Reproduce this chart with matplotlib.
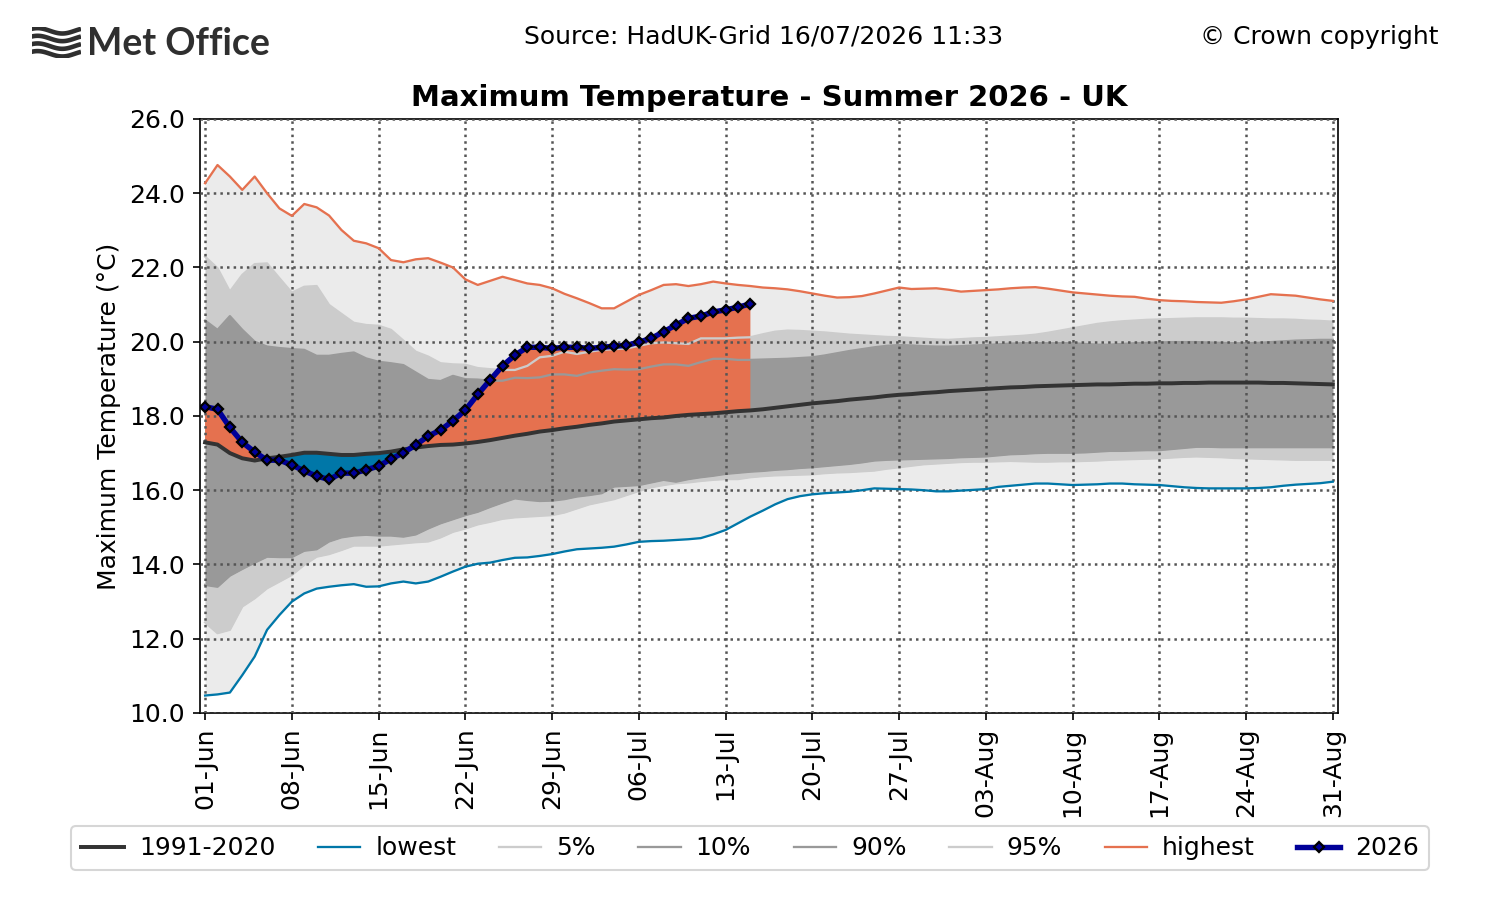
import numpy as np
import pandas as pd
import matplotlib
matplotlib.use("Agg")
import matplotlib.pyplot as plt
import matplotlib.dates as mdates

# ---- data (01 Jun .. 31 Aug) ----
dates = pd.date_range("2026-06-01", "2026-08-31", freq="D")

clim = [17.29, 17.23, 17.00, 16.86, 16.80, 16.86, 16.90, 16.95, 17.01, 17.01,
        16.98, 16.95, 16.95, 16.98, 17.00, 17.04, 17.10, 17.15, 17.19, 17.22,
        17.23, 17.26, 17.30, 17.35, 17.41, 17.47, 17.52, 17.58, 17.62, 17.67,
        17.71, 17.76, 17.80, 17.85, 17.88, 17.91, 17.94, 17.96, 18.00, 18.03,
        18.05, 18.07, 18.10, 18.13, 18.15, 18.18, 18.22, 18.26, 18.30, 18.34,
        18.37, 18.40, 18.44, 18.47, 18.50, 18.54, 18.57, 18.59, 18.62, 18.64,
        18.67, 18.69, 18.71, 18.73, 18.75, 18.77, 18.78, 18.80, 18.81, 18.82,
        18.83, 18.84, 18.85, 18.85, 18.86, 18.87, 18.87, 18.88, 18.88, 18.89,
        18.89, 18.90, 18.90, 18.90, 18.90, 18.90, 18.89, 18.89, 18.88, 18.87,
        18.86, 18.85]

lowest = [10.47, 10.50, 10.55, 11.02, 11.52, 12.24, 12.64, 13.00, 13.22, 13.35,
          13.40, 13.44, 13.47, 13.40, 13.41, 13.49, 13.54, 13.49, 13.54, 13.67,
          13.81, 13.94, 14.02, 14.05, 14.12, 14.18, 14.19, 14.23, 14.28, 14.35,
          14.41, 14.43, 14.45, 14.48, 14.54, 14.61, 14.63, 14.64, 14.66, 14.68,
          14.71, 14.81, 14.93, 15.11, 15.29, 15.45, 15.62, 15.76, 15.84, 15.89,
          15.92, 15.94, 15.96, 16.00, 16.05, 16.04, 16.03, 16.02, 16.00, 15.97,
          15.97, 15.99, 16.01, 16.03, 16.09, 16.12, 16.15, 16.18, 16.18, 16.16,
          16.14, 16.15, 16.16, 16.18, 16.18, 16.16, 16.15, 16.14, 16.11, 16.08,
          16.06, 16.05, 16.05, 16.05, 16.05, 16.06, 16.08, 16.12, 16.15, 16.17,
          16.19, 16.23]

p5 = [12.44, 12.15, 12.24, 12.87, 13.09, 13.36, 13.54, 13.72, 13.99, 14.21,
      14.28, 14.39, 14.51, 14.51, 14.51, 14.54, 14.57, 14.60, 14.62, 14.73,
      14.88, 14.97, 15.08, 15.15, 15.23, 15.27, 15.29, 15.31, 15.33, 15.40,
      15.51, 15.62, 15.69, 15.76, 15.87, 15.98, 16.08, 16.14, 16.19, 16.21,
      16.25, 16.28, 16.30, 16.30, 16.35, 16.38, 16.40, 16.41, 16.42, 16.43,
      16.46, 16.48, 16.49, 16.51, 16.53, 16.58, 16.62, 16.66, 16.70, 16.72,
      16.74, 16.76, 16.77, 16.77, 16.78, 16.79, 16.78, 16.77, 16.77, 16.78,
      16.78, 16.79, 16.80, 16.82, 16.83, 16.84, 16.85, 16.86, 16.88, 16.90,
      16.91, 16.90, 16.89, 16.87, 16.86, 16.85, 16.84, 16.83, 16.82, 16.82,
      16.82, 16.82]

p10 = [13.45, 13.40, 13.70, 13.88, 14.05, 14.21, 14.20, 14.20, 14.37, 14.41,
       14.62, 14.73, 14.78, 14.80, 14.78, 14.78, 14.75, 14.81, 14.97, 15.11,
       15.22, 15.33, 15.42, 15.55, 15.67, 15.78, 15.74, 15.71, 15.72, 15.76,
       15.83, 15.87, 15.92, 16.10, 16.12, 16.14, 16.21, 16.28, 16.23, 16.30,
       16.35, 16.39, 16.44, 16.47, 16.50, 16.52, 16.55, 16.57, 16.60, 16.62,
       16.65, 16.68, 16.71, 16.75, 16.80, 16.82, 16.83, 16.84, 16.85, 16.86,
       16.87, 16.89, 16.90, 16.91, 16.94, 16.97, 16.98, 17.00, 17.01, 17.01,
       17.01, 17.02, 17.04, 17.06, 17.06, 17.07, 17.08, 17.08, 17.11, 17.14,
       17.17, 17.17, 17.16, 17.16, 17.16, 17.16, 17.16, 17.16, 17.16, 17.16,
       17.16, 17.16]

p90 = [20.57, 20.32, 20.69, 20.32, 20.00, 19.87, 19.83, 19.80, 19.78, 19.62,
       19.62, 19.67, 19.71, 19.55, 19.46, 19.42, 19.37, 19.17, 18.97, 18.94,
       19.08, 18.99, 18.98, 18.95, 18.95, 19.03, 19.02, 19.04, 19.12, 19.12,
       19.08, 19.17, 19.22, 19.26, 19.25, 19.26, 19.33, 19.39, 19.39, 19.35,
       19.45, 19.54, 19.54, 19.51, 19.51, 19.52, 19.53, 19.54, 19.56, 19.58,
       19.63, 19.69, 19.75, 19.80, 19.85, 19.89, 19.91, 19.90, 19.88, 19.87,
       19.87, 19.88, 19.90, 19.91, 19.93, 19.95, 19.96, 19.96, 19.96, 19.96,
       19.96, 19.94, 19.92, 19.92, 19.94, 19.96, 19.97, 19.98, 19.99, 19.99,
       19.99, 19.98, 19.97, 19.96, 19.96, 19.97, 19.99, 20.01, 20.03, 20.04,
       20.05, 20.05]

p95 = [22.29, 21.98, 21.35, 21.80, 22.09, 22.11, 21.71, 21.32, 21.48, 21.50,
       20.99, 20.75, 20.51, 20.45, 20.43, 20.32, 20.03, 19.73, 19.60, 19.42,
       19.39, 19.38, 19.29, 19.26, 19.24, 19.24, 19.35, 19.58, 19.62, 19.73,
       19.67, 19.73, 19.78, 19.80, 19.82, 19.89, 19.96, 19.98, 19.96, 19.94,
       20.09, 20.09, 20.09, 20.11, 20.12, 20.20, 20.27, 20.30, 20.29, 20.27,
       20.25, 20.22, 20.19, 20.17, 20.15, 20.13, 20.12, 20.10, 20.08, 20.06,
       20.05, 20.07, 20.09, 20.10, 20.12, 20.14, 20.16, 20.19, 20.24, 20.30,
       20.36, 20.42, 20.48, 20.52, 20.55, 20.57, 20.59, 20.60, 20.61, 20.62,
       20.63, 20.63, 20.63, 20.62, 20.62, 20.61, 20.60, 20.60, 20.59, 20.57,
       20.56, 20.54]

highest = [24.27, 24.76, 24.45, 24.09, 24.45, 24.00, 23.59, 23.39, 23.71, 23.62,
           23.40, 23.01, 22.72, 22.65, 22.52, 22.20, 22.14, 22.22, 22.25, 22.13,
           22.00, 21.68, 21.53, 21.64, 21.75, 21.66, 21.57, 21.53, 21.44, 21.29,
           21.17, 21.04, 20.90, 20.90, 21.08, 21.26, 21.39, 21.53, 21.55, 21.50,
           21.55, 21.62, 21.57, 21.53, 21.50, 21.46, 21.44, 21.41, 21.36, 21.30,
           21.24, 21.19, 21.20, 21.23, 21.30, 21.38, 21.46, 21.42, 21.43, 21.44,
           21.40, 21.35, 21.37, 21.39, 21.41, 21.44, 21.46, 21.47, 21.43, 21.38,
           21.33, 21.30, 21.27, 21.24, 21.22, 21.21, 21.16, 21.12, 21.10, 21.09,
           21.07, 21.06, 21.05, 21.09, 21.14, 21.21, 21.28, 21.26, 21.24, 21.19,
           21.14, 21.10]

# 2026 observed, 01 Jun .. 15 Jul
obs = [18.25, 18.18, 17.69, 17.29, 17.03, 16.81, 16.81, 16.68, 16.52, 16.38,
       16.29, 16.46, 16.46, 16.55, 16.65, 16.84, 17.01, 17.22, 17.46, 17.62,
       17.87, 18.16, 18.58, 18.97, 19.35, 19.64, 19.85, 19.85, 19.82, 19.85,
       19.85, 19.82, 19.85, 19.88, 19.90, 19.99, 20.09, 20.27, 20.45, 20.63,
       20.69, 20.80, 20.86, 20.93, 21.02]

yticks = [10, 12, 14, 16, 18, 20, 22, 24, 26]

ORANGE = "#e5714f"
BLUE = "#0077a8"
NAVY = "#000099"


def draw_logo(fig):
    # wave symbol + wordmark, just decoration
    lax = fig.add_axes([0.021, 0.936, 0.033, 0.034])
    lax.axis("off")
    t = np.linspace(0, 1, 60)
    for k in range(4):
        lax.plot(t, 0.35 * np.sin(2 * np.pi * t + 0.8) + k, color="#2f2f2f",
                 lw=2.2, solid_capstyle="butt")
    lax.set_xlim(0, 1)
    lax.set_ylim(-0.5, 3.5)
    fig.text(0.058, 0.951, "Met Office", fontsize=18, fontweight="bold",
             family="Lato", color="#2f2f2f", va="center", ha="left")


def plot():
    plt.rcParams["font.size"] = 12
    fig = plt.figure(figsize=(10, 6), dpi=150)
    ax = fig.add_axes([0.1333, 0.2078, 0.7587, 0.66])

    n = len(obs)
    d26 = dates[:n]
    c26 = np.array(clim[:n])
    o26 = np.array(obs)

    # envelope bands
    ax.fill_between(dates, lowest, highest, color="#ebebeb", lw=0, zorder=1)
    ax.fill_between(dates, p5, p95, color="#cccccc", lw=0, zorder=1)
    ax.fill_between(dates, p10, p90, color="#999999", lw=0, zorder=1)

    # anomaly shading for 2026
    ax.fill_between(d26, c26, o26, where=o26 >= c26, interpolate=True,
                    color=ORANGE, lw=0, zorder=1.5)
    ax.fill_between(d26, c26, o26, where=o26 < c26, interpolate=True,
                    color=BLUE, lw=0, zorder=1.5)

    ax.plot(dates, clim, color="#333333", lw=1.9, label="1991-2020", zorder=3)
    ax.plot(dates, lowest, color=BLUE, lw=1.1, label="lowest", zorder=3)
    ax.plot(dates, p5, color="#cccccc", lw=1.1, label="5%", zorder=2)
    ax.plot(dates, p10, color="#999999", lw=1.1, label="10%", zorder=2)
    ax.plot(dates, p90, color="#999999", lw=1.1, label="90%", zorder=2)
    ax.plot(dates, p95, color="#cccccc", lw=1.1, label="95%", zorder=2)
    ax.plot(dates, highest, color=ORANGE, lw=1.1, label="highest", zorder=3)
    ax.plot(d26, obs, color=NAVY, lw=2.6, marker="D", markersize=3.2,
            mfc=NAVY, mec="black", mew=1.1, label="2026", zorder=4)

    ax.set_xlim(dates[0] - pd.Timedelta(hours=10), dates[-1] + pd.Timedelta(hours=10))
    ax.set_ylim(10, 26)
    ax.set_yticks(yticks)
    ax.yaxis.set_major_formatter(plt.FormatStrFormatter("%.1f"))
    ax.set_xticks(dates[::7])
    ax.xaxis.set_major_formatter(mdates.DateFormatter("%d-%b"))
    plt.setp(ax.get_xticklabels(), rotation=90)

    ax.set_axisbelow(False)
    ax.grid(True, linestyle=":", color="#555555", lw=1.2)

    ax.set_ylabel("Maximum Temperature (\u00b0C)")
    ax.set_title("Maximum Temperature - Summer 2026 - UK", fontsize=14,
                 fontweight="bold", pad=6)

    fig.text(0.509, 0.959, "Source: HadUK-Grid 16/07/2026 11:33", ha="center",
             va="center", fontsize=12)
    fig.text(0.959, 0.959, "\u00a9 Crown copyright", ha="right", va="center",
             fontsize=12)
    draw_logo(fig)

    fig.legend(loc="lower center", bbox_to_anchor=(0.5, 0.033), ncol=8,
               fontsize=12, columnspacing=1.7, handlelength=1.7,
               handletextpad=0.6, borderaxespad=0)

    fig.savefig("out.png", dpi=150)


if __name__ == "__main__":
    plot()
